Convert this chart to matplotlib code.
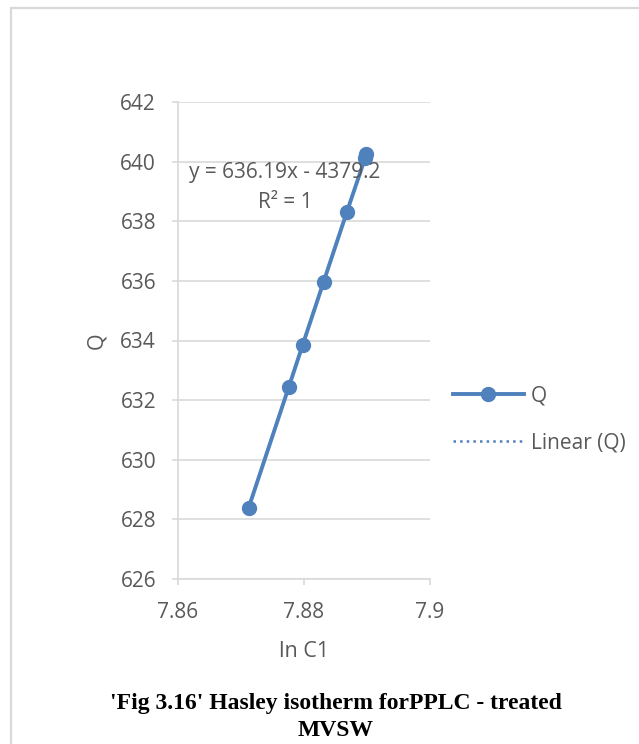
import numpy as np
import matplotlib
matplotlib.use("Agg")
import matplotlib.pyplot as plt
from matplotlib.patches import Rectangle

# donnees
ln_c1 = [7.8712, 7.8776, 7.8798, 7.8831, 7.8868, 7.8897, 7.8899]
q = [628.38, 632.45, 633.86, 635.96, 638.31, 640.12, 640.26]
x_ticks = [7.86, 7.88, 7.9]
x_tick_labels = ["7.86", "7.88", "7.9"]
y_ticks = [626, 628, 630, 632, 634, 636, 638, 640, 642]

blue = "#4f81bd"
grey = "#d9d9d9"
txt = "#595959"
plt.rcParams['font.family'] = ['Open Sans', 'DejaVu Sans']

fig = plt.figure(figsize=(6.39, 7.44), dpi=100)
fig.patches.append(Rectangle((11/639, -0.1), 1.0, 1 - 8/744 + 0.1, transform=fig.transFigure,
                             fill=False, edgecolor=grey, linewidth=1.6))

ax = fig.add_axes([178/639, 1 - 579/744, 252/639, 477/744])

# regression lineaire (trendline)
a, b = np.polyfit(ln_c1, q, 1)
xf = np.array([min(ln_c1), max(ln_c1)])
ax.plot(ln_c1, q, "-o", color=blue, lw=2.8, ms=10, label="Q", zorder=3)
ax.plot(xf, a * xf + b, ":", color=blue, lw=1.8, label="Linear (Q)", zorder=2)

ax.text(7.8770, 639.62, "y = 636.19x - 4379.2", ha="center", va="center", fontsize=15, color=txt)
ax.text(7.8770, 638.62, "R² = 1", ha="center", va="center", fontsize=15, color=txt)

ax.set_xlim(7.86, 7.9)
ax.set_ylim(626, 642)
ax.set_xticks(x_ticks)
ax.set_xticklabels(x_tick_labels)
ax.set_yticks(y_ticks)
ax.tick_params(colors=grey, labelcolor=txt, labelsize=15, length=4.3, width=1.2)
ax.tick_params(axis="y", pad=11.5)
ax.tick_params(axis="x", pad=12.5)
ax.grid(axis="y", color=grey, lw=1.2)
ax.set_axisbelow(True)
for s in ["top", "right"]:
    ax.spines[s].set_visible(False)
for s in ["left", "bottom"]:
    ax.spines[s].set_color(grey)
    ax.spines[s].set_linewidth(1.2)

ax.set_xlabel("ln C1", fontsize=15.5, color=txt)
ax.set_ylabel("Q", fontsize=15.5, color=txt)
ax.xaxis.set_label_coords(0.5, (579 - 641) / 477)
ax.yaxis.set_label_coords((107 - 178) / 252, 0.5)

ax.legend(loc="center left", bbox_to_anchor=((453 - 178) / 252, (579 - 419.5) / 477),
          frameon=False, fontsize=15, labelcolor=txt, handlelength=3.4, labelspacing=1.25,
          handletextpad=0.35, borderpad=0, borderaxespad=0)

fig.text(336/639, 1 - 704/744, "'Fig 3.16' Hasley isotherm forPPLC - treated", ha="center", va="center",
         fontsize=17, fontweight="bold", family="Liberation Serif")
fig.text(336/639, 1 - 730/744, "MVSW", ha="center", va="center",
         fontsize=17, fontweight="bold", family="Liberation Serif")

fig.savefig("out.png", dpi=100)
